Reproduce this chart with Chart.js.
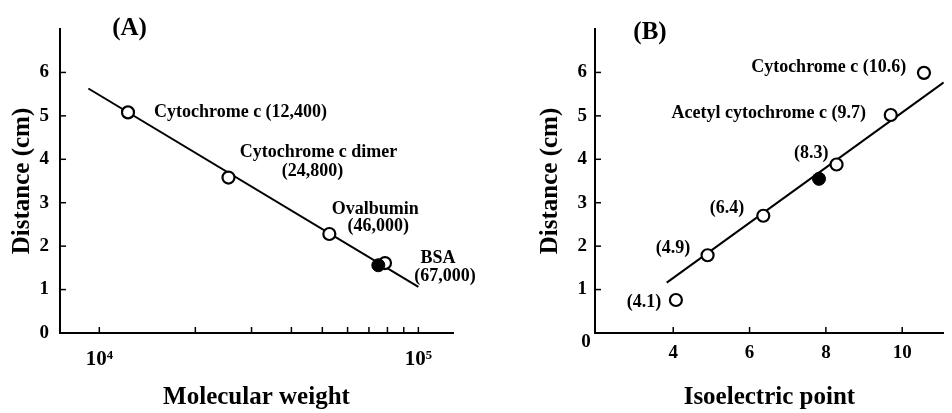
<!DOCTYPE html>
<html>
<head>
<meta charset="utf-8">
<script src="https://cdn.jsdelivr.net/npm/chart.js@4.4.1/dist/chart.umd.min.js"></script>
<style>
html, body { margin: 0; padding: 0; background: #fff; }
#wrap { width: 952px; height: 413px; display: flex; }
canvas { display: block; }
</style>
</head>
<body>
<div id="wrap">
<canvas id="chartA" width="476" height="413"></canvas>
<canvas id="chartB" width="476" height="413"></canvas>
</div>
<script>
// panel A - distance vs molecular weight
var proteinLabelsA = ['Cytochrome c (12,400)', 'Cytochrome c dimer', '(24,800)', 'Ovalbumin', '(46,000)', 'BSA', '(67,000)'];
var mwA = [12300, 25400, 52600, 78600];
var distA = [5.08, 3.58, 2.28, 1.61];
var sampleMwA = [74900];
var sampleDistA = [1.56];
var fitMwA = [9240, 100000];
var fitDistA = [5.63, 1.06];
var mwTicks = [10000, 20000, 30000, 40000, 50000, 60000, 70000, 80000, 90000, 100000];
var distTicks = [0, 1, 2, 3, 4, 5, 6];

// panel B - distance vs isoelectric point
var pointLabelsB = ['(4.1)', '(4.9)', '(6.4)', '(8.3)', 'Acetyl cytochrome c (9.7)', 'Cytochrome c (10.6)'];
var piB = [4.07, 4.90, 6.36, 8.28, 9.70, 10.57];
var distB = [0.76, 1.79, 2.70, 3.88, 5.02, 5.99];
var samplePiB = [7.82];
var sampleDistB = [3.55];
var fitPiB = [3.83, 11.09];
var fitDistB = [1.16, 5.77];
var piTicks = [4, 6, 8, 10];

var FONT = '"Liberation Serif", "Times New Roman", serif';

function pts(xs, ys) {
	return xs.map(function(x, i) { return { x: x, y: ys[i] }; });
}

var inkPlugin = {
	id: 'ink',
	afterDraw: function(chart, args, opts) {
		var ctx = chart.ctx;
		var xs = chart.scales.x, ys = chart.scales.y, area = chart.chartArea;
		ctx.save();
		ctx.strokeStyle = '#000';
		ctx.lineWidth = 1.5;
		// tick marks point inward
		xs.ticks.forEach(function(t) {
			if (t.value <= xs.min) return;
			var px = xs.getPixelForValue(t.value);
			ctx.beginPath();
			ctx.moveTo(px, area.bottom);
			ctx.lineTo(px, area.bottom - 6);
			ctx.stroke();
		});
		ys.ticks.forEach(function(t) {
			if (t.value <= ys.min) return;
			var py = ys.getPixelForValue(t.value);
			ctx.beginPath();
			ctx.moveTo(area.left, py);
			ctx.lineTo(area.left + 6, py);
			ctx.stroke();
		});
		ctx.fillStyle = '#000';
		ctx.textBaseline = 'middle';
		ctx.font = 'bold 18px ' + FONT;
		opts.notes.forEach(function(n) {
			var el = chart.getDatasetMeta(n.ds).data[n.i];
			ctx.textAlign = n.align;
			ctx.fillText(n.text, el.x + n.dx, el.y + n.dy);
		});
		if (opts.zero) {
			ctx.font = 'bold 19px ' + FONT;
			ctx.textAlign = 'center';
			ctx.fillText('0', area.left + opts.zero.dx, ys.getPixelForValue(0) + opts.zero.dy);
		}
		ctx.font = 'bold 25px ' + FONT;
		ctx.textAlign = 'center';
		ctx.fillText(opts.panel.text, area.left + opts.panel.dx, area.top + opts.panel.dy);
		ctx.restore();
	}
};

function baseScale() {
	return {
		grid: { display: true, drawOnChartArea: false, drawTicks: false },
		border: { display: true, color: '#000', width: 2 },
		ticks: { color: '#000', font: { family: FONT, weight: 'bold', size: 19 }, autoSkip: false, maxRotation: 0 },
		title: { display: true, color: '#000', font: { family: FONT, weight: 'bold', size: 25 } }
	};
}

function datasets(open, filled, fit) {
	return [
		{ type: 'scatter', data: filled, pointRadius: 6.5, pointBackgroundColor: '#000', pointBorderColor: '#000', pointBorderWidth: 1, order: 1 },
		{ type: 'scatter', data: open, pointRadius: 6, pointBackgroundColor: '#fff', pointBorderColor: '#000', pointBorderWidth: 2.2, order: 2 },
		{ type: 'line', data: fit, borderColor: '#000', borderWidth: 2, pointRadius: 0, fill: false, order: 3 }
	];
}

// ---- A ----
var xA = baseScale();
xA.type = 'logarithmic';
xA.min = 7530;
xA.max = 128400;
xA.afterBuildTicks = function(s) { s.ticks = mwTicks.map(function(v) { return { value: v }; }); };
xA.afterFit = function(s) { s.height = 80; };
xA.ticks.padding = 14;
xA.ticks.font = { family: FONT, weight: 'bold', size: 21 };
xA.ticks.callback = function(v) { return v === 10000 ? '10\u2074' : (v === 100000 ? '10\u2075' : ''); };
xA.title.text = 'Molecular weight';
xA.title.padding = { top: 0, bottom: 0 };

var yA = baseScale();
yA.min = 0;
yA.max = 7;
yA.afterBuildTicks = function(s) { s.ticks = distTicks.map(function(v) { return { value: v }; }); };
yA.afterFit = function(s) { s.width = 60; };
yA.ticks.padding = 11;
yA.title.text = 'Distance (cm)';
yA.title.padding = { top: 8, bottom: 0 };

new Chart(document.getElementById('chartA'), {
	type: 'scatter',
	data: { datasets: datasets(pts(mwA, distA), pts(sampleMwA, sampleDistA), pts(fitMwA, fitDistA)) },
	options: {
		animation: false,
		responsive: false,
		events: [],
		layout: { padding: { top: 29, right: 23, left: 0, bottom: 0 } },
		scales: { x: xA, y: yA },
		plugins: {
			legend: { display: false },
			tooltip: { enabled: false },
			ink: {
				panel: { text: '(A)', dx: 69.5, dy: 0 },
				notes: [
					{ text: proteinLabelsA[0], ds: 1, i: 0, dx: 26, dy: 0, align: 'left' },
					{ text: proteinLabelsA[1], ds: 1, i: 1, dx: 90, dy: -25.6, align: 'center' },
					{ text: proteinLabelsA[2], ds: 1, i: 1, dx: 84, dy: -6.6, align: 'center' },
					{ text: proteinLabelsA[3], ds: 1, i: 2, dx: 46, dy: -25, align: 'center' },
					{ text: proteinLabelsA[4], ds: 1, i: 2, dx: 49, dy: -7.6, align: 'center' },
					{ text: proteinLabelsA[5], ds: 1, i: 3, dx: 53, dy: -5, align: 'center' },
					{ text: proteinLabelsA[6], ds: 1, i: 3, dx: 60, dy: 13, align: 'center' }
				]
			}
		}
	},
	plugins: [inkPlugin]
});

// ---- B ----
var xB = baseScale();
xB.type = 'linear';
xB.min = 1.95;
xB.max = 11.09;
xB.afterBuildTicks = function(s) { s.ticks = piTicks.map(function(v) { return { value: v }; }); };
xB.afterFit = function(s) { s.height = 80; };
xB.ticks.padding = 9;
xB.title.text = 'Isoelectric point';
xB.title.padding = { top: 0, bottom: 0 };

var yB = baseScale();
yB.min = 0;
yB.max = 7;
yB.afterBuildTicks = function(s) { s.ticks = distTicks.map(function(v) { return { value: v }; }); };
yB.afterFit = function(s) { s.width = 119; };
yB.ticks.padding = 8;
yB.ticks.callback = function(v) { return v === 0 ? '' : String(v); };
yB.title.text = 'Distance (cm)';
yB.title.padding = { top: 60, bottom: 0 };

new Chart(document.getElementById('chartB'), {
	type: 'scatter',
	data: { datasets: datasets(pts(piB, distB), pts(samplePiB, sampleDistB), pts(fitPiB, fitDistB)) },
	options: {
		animation: false,
		responsive: false,
		events: [],
		layout: { padding: { top: 29, right: 0, left: 0, bottom: 0 } },
		scales: { x: xB, y: yB },
		plugins: {
			legend: { display: false },
			tooltip: { enabled: false },
			ink: {
				panel: { text: '(B)', dx: 55, dy: 4 },
				zero: { dx: -9, dy: 9 },
				notes: [
					{ text: pointLabelsB[0], ds: 1, i: 0, dx: -14.7, dy: 2, align: 'right' },
					{ text: pointLabelsB[1], ds: 1, i: 1, dx: -17.3, dy: -7.3, align: 'right' },
					{ text: pointLabelsB[2], ds: 1, i: 2, dx: -19, dy: -7, align: 'right' },
					{ text: pointLabelsB[3], ds: 1, i: 3, dx: -8, dy: -11, align: 'right' },
					{ text: pointLabelsB[4], ds: 1, i: 4, dx: -24.7, dy: -2, align: 'right' },
					{ text: pointLabelsB[5], ds: 1, i: 5, dx: -17.7, dy: -6, align: 'right' }
				]
			}
		}
	},
	plugins: [inkPlugin]
});
</script>
</body>
</html>
